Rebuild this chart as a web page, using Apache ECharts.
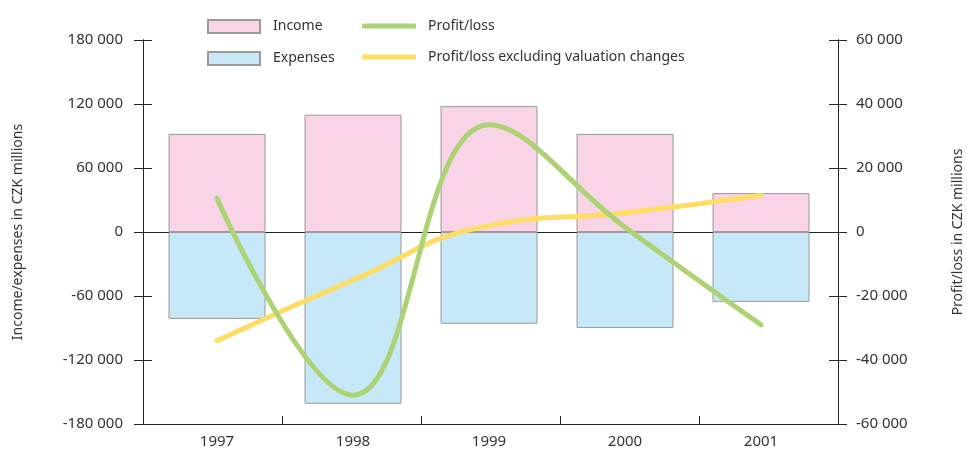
<!DOCTYPE html>
<html>
<head>
<meta charset="utf-8">
<script src="https://cdn.jsdelivr.net/npm/echarts@6/dist/echarts.min.js"></script>
<style>
  html, body { margin: 0; padding: 0; background: #fff; }
  #chart { width: 967px; height: 452px; }
</style>
</head>
<body>
<div id="chart"></div>
<script>
// data (CZK millions)
const years = ['1997', '1998', '1999', '2000', '2001'];
const income = [92000, 110000, 118000, 92000, 36500];
const expenses = [-81500, -161000, -86000, -90000, -65500];
const profitLoss = [10500, -51000, 33500, 1500, -29000];
const profitExclValuation = [-34000, -15000, 2000, 6000, 11500];

const font = "'Noto Sans', sans-serif";
const textColor = '#333';
const axisColor = '#222';

function spaced(v) {
  let s = String(Math.abs(v)).replace(/\B(?=(\d{3})+(?!\d))/g, ' ');
  return (v < 0 ? '-' : '') + s;
}

let chart = echarts.init(document.getElementById('chart'));

// grid 0 carries the visible frame (axes, ticks, zero line),
// grid 1 is a little narrower and carries the bars, lines and year labels
let leftRange = { min: -180000, max: 180000, interval: 60000 };
let rightRange = { min: -60000, max: 60000, interval: 20000 };

function innerTicksY(pos, range) {
  return Object.assign({
    type: 'value', gridIndex: 0, position: pos,
    axisLabel: { show: false },
    axisLine: { show: true, lineStyle: { color: axisColor } },
    splitLine: { show: false },
    axisTick: { show: true, inside: true, length: 9, lineStyle: { color: axisColor } }
  }, range);
}

function plainY(pos, range) {
  return Object.assign({
    type: 'value', gridIndex: 1, position: pos, show: false,
    splitLine: { show: false }
  }, range);
}

let option = {
  animation: false,
  textStyle: { fontFamily: font },
  grid: [
    { left: 143, right: 129, top: 40, bottom: 28, outerBoundsMode: 'none', containLabel: false },
    { left: 149, right: 138, top: 40, bottom: 28, outerBoundsMode: 'none', containLabel: false }
  ],
  legend: [
    {
      data: [{ name: 'Income', icon: 'rect' }, { name: 'Expenses', icon: 'rect' }],
      orient: 'vertical',
      left: 202, top: 14,
      itemWidth: 52, itemHeight: 13, itemGap: 17,
      textStyle: { fontFamily: font, fontSize: 14, color: textColor, padding: [0, 0, 0, 8] }
    },
    {
      data: [
        { name: 'Profit/loss', icon: 'roundRect' },
        { name: 'Profit/loss excluding valuation changes', icon: 'roundRect' }
      ],
      orient: 'vertical',
      left: 357, top: 14,
      itemWidth: 54, itemHeight: 5, itemGap: 17,
      textStyle: { fontFamily: font, fontSize: 14, color: textColor, padding: [0, 0, 0, 7] }
    }
  ],
  xAxis: [
    {
      type: 'category', gridIndex: 0, data: years, position: 'bottom',
      axisLine: { onZero: false, lineStyle: { color: axisColor } },
      axisTick: { length: 9, lineStyle: { color: axisColor } },
      axisLabel: { show: false }
    },
    {
      type: 'category', gridIndex: 0, data: years, position: 'bottom',
      axisLine: { show: true, onZero: false, lineStyle: { color: axisColor } },
      axisLabel: { show: false },
      axisTick: { show: true, inside: true, length: 8, lineStyle: { color: axisColor } }
    },
    {
      // zero line across the whole frame (bars sit on top of it)
      type: 'category', gridIndex: 0, data: years, position: 'bottom',
      axisLine: { show: true, onZero: true, lineStyle: { color: axisColor } },
      axisLabel: { show: false },
      axisTick: { show: false }
    },
    {
      type: 'category', gridIndex: 1, data: years, position: 'bottom',
      axisLine: { show: false, onZero: false },
      axisTick: { show: false },
      axisLabel: { color: textColor, fontSize: 15, margin: 10, fontFamily: font }
    }
  ],
  yAxis: [
    Object.assign({
      type: 'value', gridIndex: 0, position: 'left',
      name: 'Income/expenses in CZK millions',
      nameLocation: 'middle', nameGap: 118, nameRotate: 90,
      nameTextStyle: { color: textColor, fontSize: 14, fontFamily: font },
      axisLine: { show: true, lineStyle: { color: axisColor } },
      axisTick: { show: true, length: 9, lineStyle: { color: axisColor } },
      splitLine: { show: false },
      axisLabel: { color: textColor, fontSize: 15, margin: 20, fontFamily: font, formatter: spaced }
    }, leftRange),
    Object.assign({
      type: 'value', gridIndex: 0, position: 'right',
      name: 'Profit/loss in CZK millions',
      nameLocation: 'middle', nameGap: 113, nameRotate: 90,
      nameTextStyle: { color: textColor, fontSize: 14, fontFamily: font },
      axisLine: { show: true, lineStyle: { color: axisColor } },
      axisTick: { show: true, length: 9, lineStyle: { color: axisColor } },
      splitLine: { show: false },
      axisLabel: { color: textColor, fontSize: 15, margin: 18, fontFamily: font, formatter: spaced }
    }, rightRange),
    innerTicksY('left', leftRange),
    innerTicksY('right', rightRange),
    plainY('left', leftRange),
    plainY('right', rightRange)
  ],
  series: [
    {
      name: 'Income', type: 'bar', stack: 'ie',
      xAxisIndex: 3, yAxisIndex: 4,
      barWidth: 97, z: 2,
      data: income,
      itemStyle: { color: '#f9d4e6', borderColor: '#9a9a9a', borderWidth: 1 }
    },
    {
      name: 'Expenses', type: 'bar', stack: 'ie',
      xAxisIndex: 3, yAxisIndex: 4,
      barWidth: 97, z: 2,
      data: expenses,
      itemStyle: { color: '#c6e8f9', borderColor: '#9a9a9a', borderWidth: 1 }
    },
    {
      name: 'Profit/loss', type: 'line',
      xAxisIndex: 3, yAxisIndex: 5,
      smooth: 0.4, symbol: 'none', z: 5,
      data: profitLoss,
      itemStyle: { color: '#acd373' },
      lineStyle: { color: '#acd373', width: 5, cap: 'round' }
    },
    {
      name: 'Profit/loss excluding valuation changes', type: 'line',
      xAxisIndex: 3, yAxisIndex: 5,
      smooth: 0.5, symbol: 'none', z: 4,
      data: profitExclValuation,
      itemStyle: { color: '#ffdc64' },
      lineStyle: { color: '#ffdc64', width: 5, cap: 'round' }
    }
  ]
};

chart.setOption(option);
</script>
</body>
</html>
